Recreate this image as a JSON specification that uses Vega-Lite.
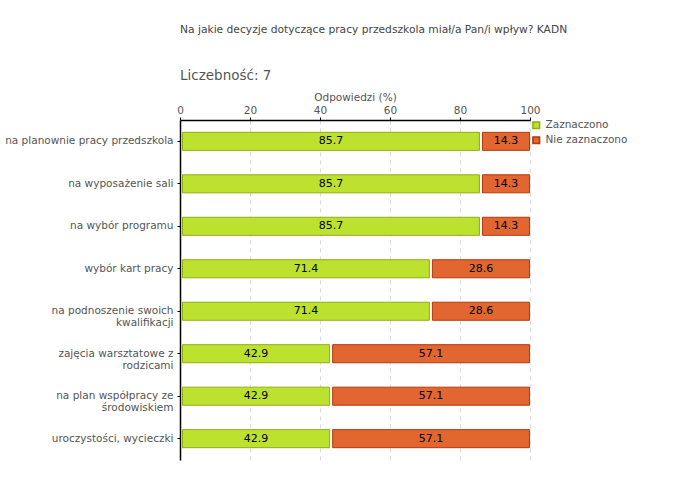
{
  "$schema": "https://vega.github.io/schema/vega-lite/v6.json",
  "width": 350,
  "height": 340,
  "autosize": {"type": "none"},
  "padding": {"left": 180, "top": 120, "right": 150, "bottom": 20},
  "background": "white",
  "config": {"view": {"stroke": null}, "font": "DejaVu Sans"},
  "title": {
    "text": "Na jakie decyzje dotyczące pracy przedszkola miał/a Pan/i wpływ? KADN",
    "subtitle": "Liczebność: 7",
    "anchor": "start",
    "frame": "group",
    "font": "DejaVu Sans",
    "fontSize": 10.7,
    "fontWeight": "normal",
    "color": "#444444",
    "subtitleFont": "DejaVu Sans",
    "subtitleFontSize": 13.5,
    "subtitleColor": "#555555",
    "subtitlePadding": 33,
    "offset": 9
  },
  "data": {
    "values": [
      {"category": "na planownie pracy przedszkola", "series": "Zaznaczono", "value": 85.7},
      {"category": "na planownie pracy przedszkola", "series": "Nie zaznaczono", "value": 14.3},
      {"category": "na wyposażenie sali", "series": "Zaznaczono", "value": 85.7},
      {"category": "na wyposażenie sali", "series": "Nie zaznaczono", "value": 14.3},
      {"category": "na wybór programu", "series": "Zaznaczono", "value": 85.7},
      {"category": "na wybór programu", "series": "Nie zaznaczono", "value": 14.3},
      {"category": "wybór kart pracy", "series": "Zaznaczono", "value": 71.4},
      {"category": "wybór kart pracy", "series": "Nie zaznaczono", "value": 28.6},
      {"category": "na podnoszenie swoich\nkwalifikacji", "series": "Zaznaczono", "value": 71.4},
      {"category": "na podnoszenie swoich\nkwalifikacji", "series": "Nie zaznaczono", "value": 28.6},
      {"category": "zajęcia warsztatowe z\nrodzicami", "series": "Zaznaczono", "value": 42.9},
      {"category": "zajęcia warsztatowe z\nrodzicami", "series": "Nie zaznaczono", "value": 57.1},
      {"category": "na plan współpracy ze\nśrodowiskiem", "series": "Zaznaczono", "value": 42.9},
      {"category": "na plan współpracy ze\nśrodowiskiem", "series": "Nie zaznaczono", "value": 57.1},
      {"category": "uroczystości, wycieczki", "series": "Zaznaczono", "value": 42.9},
      {"category": "uroczystości, wycieczki", "series": "Nie zaznaczono", "value": 57.1}
    ]
  },
  "transform": [
    {"stack": "value", "groupby": ["category"], "sort": [{"field": "series", "order": "descending"}], "as": ["v0", "v1"]},
    {"calculate": "(datum.v0 + datum.v1) / 2", "as": "mid"}
  ],
  "encoding": {
    "y": {
      "field": "category",
      "type": "nominal",
      "sort": [
        "na planownie pracy przedszkola",
        "na wyposażenie sali",
        "na wybór programu",
        "wybór kart pracy",
        "na podnoszenie swoich\nkwalifikacji",
        "zajęcia warsztatowe z\nrodzicami",
        "na plan współpracy ze\nśrodowiskiem",
        "uroczystości, wycieczki"
      ],
      "scale": {"paddingInner": 0.575, "paddingOuter": 0.29},
      "axis": {
        "title": null,
        "orient": "left",
        "domainColor": "#000000",
        "domainWidth": 1.5,
        "tickColor": "#000000",
        "tickSize": 3,
        "labelPadding": 4,
        "labelLimit": 300,
        "labelFont": "DejaVu Sans",
        "labelFontSize": 10.5,
        "labelColor": "#555555",
        "labelLineHeight": 12,
        "labelExpr": "split(datum.label, '\\n')"
      }
    }
  },
  "layer": [
    {
      "mark": {"type": "bar", "strokeWidth": 1, "xOffset": 2.5, "x2Offset": -0.5},
      "encoding": {
        "x": {
          "field": "v0",
          "type": "quantitative",
          "scale": {"domain": [0, 100], "nice": false},
          "axis": {
            "orient": "top",
            "title": "Odpowiedzi (%)",
            "titleFont": "DejaVu Sans",
            "titleFontSize": 10.5,
            "titleFontWeight": "normal",
            "titleColor": "#555555",
            "titlePadding": 3,
            "values": [0, 10, 20, 30, 40, 50, 60, 70, 80, 90, 100],
            "labelExpr": "datum.value % 20 == 0 ? datum.label : ''",
            "labelFlush": false,
            "labelFont": "DejaVu Sans",
            "labelFontSize": 10.5,
            "labelColor": "#555555",
            "labelPadding": 2,
            "domainColor": "#000000",
            "domainWidth": 1.5,
            "tickColor": {"condition": {"test": "datum.value % 20 != 0", "value": "#cc0000"}, "value": "#000000"},
            "tickSize": 3,
            "grid": true,
            "gridDash": [4, 4],
            "gridColor": "#d9d9d9",
            "gridOpacity": {"condition": {"test": "datum.value % 20 != 0 || datum.value == 0", "value": 0}, "value": 1}
          }
        },
        "x2": {"field": "v1"},
        "fill": {
          "field": "series",
          "type": "nominal",
          "scale": {"domain": ["Zaznaczono", "Nie zaznaczono"], "range": ["#BDE12F", "#E2662F"]},
          "legend": {
            "title": null,
            "orient": "right",
            "offset": 1,
            "symbolType": "square",
            "symbolSize": 45,
            "labelFont": "DejaVu Sans",
            "labelFontSize": 10.5,
            "labelColor": "#555555",
            "rowPadding": 1,
            "padding": 0
          }
        },
        "stroke": {
          "field": "series",
          "type": "nominal",
          "scale": {"domain": ["Zaznaczono", "Nie zaznaczono"], "range": ["#8FAF10", "#B4380C"]},
          "legend": null
        }
      }
    },
    {
      "mark": {"type": "text", "font": "DejaVu Sans", "fontSize": 11, "color": "#000000", "baseline": "middle", "align": "center", "dx": 1},
      "encoding": {
        "x": {"field": "mid", "type": "quantitative"},
        "text": {"field": "value", "type": "quantitative", "format": ".1f"}
      }
    }
  ]
}
